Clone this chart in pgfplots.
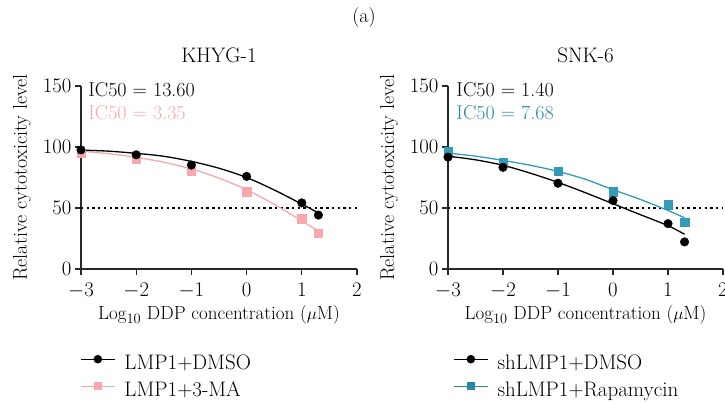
\documentclass[border=0pt]{standalone}
\usepackage{pgfplots}
\pgfplotsset{compat=1.18}
\definecolor{pinkc}{RGB}{247,168,172}
\definecolor{tealc}{RGB}{52,155,182}
\definecolor{tealt}{RGB}{40,138,158}
\definecolor{axc}{RGB}{40,40,40}
\newcommand\f{\fontsize{20}{24}\selectfont}
\newcommand\fl{\fontsize{21}{25}\selectfont}
\newcommand\fx{\fontsize{19}{23}\selectfont}
\pgfplotsset{
  myax/.style={
    scale only axis, anchor=south west,
    height=183pt,
    xmin=-3, xmax=2, ymin=0, ymax=150,
    axis lines=left,
    axis line style={-, line width=1.3pt, axc},
    xtick={-3,-2,-1,0,1,2}, ytick={0,50,100,150},
    tick style={line width=1.3pt, axc},
    tick align=outside, major tick length=6pt,
    tick label style={font=\f},
    xticklabel style={yshift=-5pt},
    clip=false,
    xlabel={Log$_{10}$ DDP concentration ($\mu$M)},
    ylabel={Relative cytotoxicity level},
    every axis x label/.style={at={(axis description cs:0.5,0)}, anchor=center, yshift=-46pt, font=\fx},
    every axis y label/.style={at={(axis description cs:-0.214,0.5)}, anchor=center, rotate=90, font=\f},
    legend style={draw=none, fill=none, font=\fl, at={(axis description cs:0,0)}, anchor=north west, yshift=-86pt, row sep=9pt, column sep=9pt, inner sep=0pt,
      nodes={text height=14pt, text depth=4pt, inner sep=0pt}},
    legend cell align=left,
    legend image code/.code={\draw[mark repeat=2,mark phase=2,##1] plot coordinates {(0pt,5pt)(17pt,5pt)(34pt,5pt)};},
  },
  curve/.style={line width=1.3pt, no marks, smooth, tension=0.5},
}
\begin{document}
\begin{tikzpicture}
\path[use as bounding box] (0pt,0pt) rectangle (725pt,402pt);
\node[font=\f] at (364pt,384pt) {(a)};
% Left panel
\begin{axis}[myax, at={(81pt,133pt)}, width=276pt, legend style={xshift=-1pt}]
\addplot[black, dash pattern=on 2.4pt off 3.3pt, line width=2.4pt, forget plot] coordinates {(-3,50)(2,50)};
\addplot[curve, pinkc, forget plot] coordinates {(-3,96.5)(-2.5,94.5)(-2,91.5)(-1.5,87.5)(-1,82)(-0.5,74.5)(0,65)(0.5,53)(1,39.5)(1.3,31)};
\addplot[curve, black, forget plot] coordinates {(-3,97.5)(-2.5,96.6)(-2,94.8)(-1.5,92.4)(-1,88.2)(-0.5,82.6)(0,75)(0.5,64.8)(1,53.2)(1.3,46)};
\addplot[only marks, mark=square*, mark size=4.2pt, pinkc, forget plot] coordinates {(-3,94.9)(-2,89.8)(-1,80.3)(0,63.2)(1,41.2)(1.301,29.3)};
\addplot[only marks, mark=*, mark size=4.3pt, black, forget plot] coordinates {(-3,97.6)(-2,93.6)(-1,85.2)(0,75.9)(1,54.2)(1.301,44.2)};
\addlegendimage{black, line width=1.3pt, mark=*, mark size=3.6pt}
\addlegendentry{LMP1+DMSO}
\addlegendimage{pinkc, line width=1.3pt, mark=square*, mark size=3.6pt}
\addlegendentry{LMP1+3-MA}
\node[font=\fl] at (rel axis cs:0.5,1) [yshift=31pt] {KHYG-1};
\node[font=\f, anchor=west, inner sep=0pt] at (axis cs:-2.87,147) {IC50 = 13.60};
\node[font=\f, anchor=west, inner sep=0pt, text=pinkc] at (axis cs:-2.87,128.5) {IC50 = 3.35};
\end{axis}
% Right panel
\begin{axis}[myax, at={(448pt,133pt)}, width=275pt, legend style={xshift=5pt}]
\addplot[black, dash pattern=on 2.4pt off 3.3pt, line width=2.4pt, forget plot] coordinates {(-3,50)(2,50)};
\addplot[curve, tealc, forget plot] coordinates {(-3,95)(-2.5,92.5)(-2,89)(-1.5,85)(-1,80)(-0.5,73.5)(0,65)(0.5,57)(1,48)(1.3,42)};
\addplot[curve, black, forget plot] coordinates {(-3,92.5)(-2.5,89.5)(-2,85)(-1.5,78.5)(-1,71)(-0.5,62.5)(0,53.5)(0.5,44.5)(1,35.5)(1.3,28.5)};
\addplot[only marks, mark=square*, mark size=4.2pt, tealc, forget plot] coordinates {(-3,96.6)(-2,87.6)(-1,80.3)(0,63.5)(1,52.6)(1.301,38.2)};
\addplot[only marks, mark=*, mark size=4.3pt, black, forget plot] coordinates {(-3,91.7)(-2,83.3)(-1,70.3)(0,56.1)(1,37.2)(1.301,22.2)};
\addlegendimage{black, line width=1.3pt, mark=*, mark size=3.6pt}
\addlegendentry{shLMP1+DMSO}
\addlegendimage{tealt, line width=1.3pt, mark=square*, mark size=3.6pt}
\addlegendentry{shLMP1+Rapamycin}
\node[font=\fl] at (rel axis cs:0.5,1) [yshift=31pt] {SNK-6};
\node[font=\f, anchor=west, inner sep=0pt] at (axis cs:-2.85,147) {IC50 = 1.40};
\node[font=\f, anchor=west, inner sep=0pt, text=tealt] at (axis cs:-2.85,128.5) {IC50 = 7.68};
\end{axis}
\end{tikzpicture}
\end{document}
